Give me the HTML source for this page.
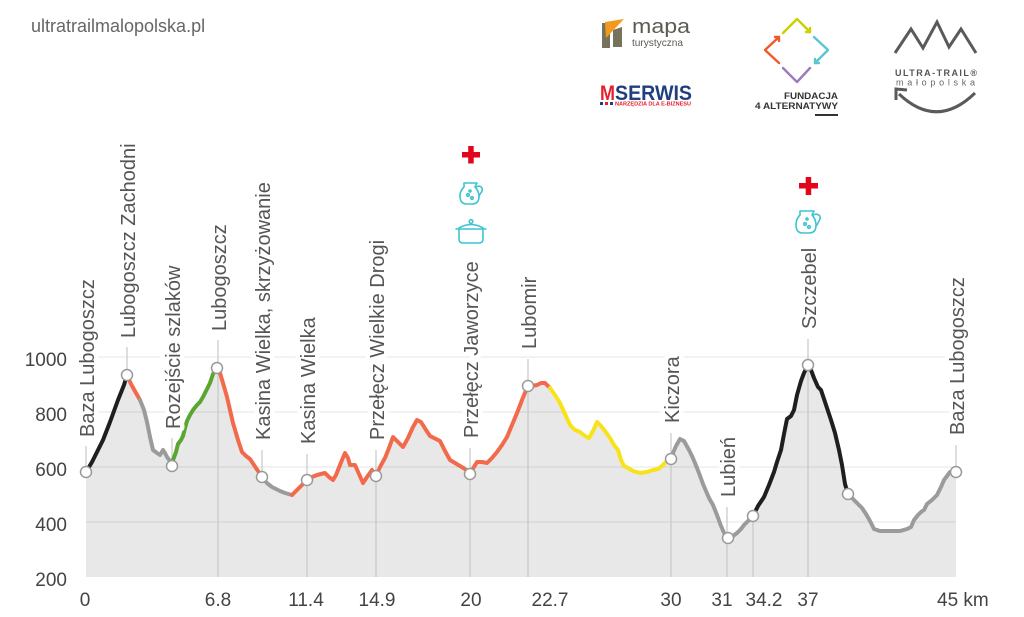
<!DOCTYPE html>
<html>
<head>
<meta charset="utf-8">
<style>
html,body{margin:0;padding:0;background:#fff;}
svg{display:block;}
text{font-family:"Liberation Sans",sans-serif;}
</style>
</head>
<body>
<svg width="1024" height="617" viewBox="0 0 1024 617" xmlns="http://www.w3.org/2000/svg">
<rect width="1024" height="617" fill="#fff"/>

<!-- header -->
<text x="31" y="32" font-size="18" fill="#666">ultratrailmalopolska.pl</text>

<!-- mapa turystyczna logo -->
<rect x="602" y="23" width="8" height="25" fill="#77725c"/>
<polygon points="613,30 622,27 622,47 613,47" fill="#77725c"/>
<polygon points="605,22 624,19 606,38" fill="#f39a1e"/>
<text x="632" y="33" font-size="20" fill="#5b5b52" textLength="58" lengthAdjust="spacingAndGlyphs">mapa</text>
<text x="632" y="46" font-size="10.5" fill="#5b5b52" textLength="51" lengthAdjust="spacingAndGlyphs">turystyczna</text>

<!-- MSERWIS logo -->
<text x="600" y="100" font-size="21" font-weight="bold" fill="#e4202e" textLength="15" lengthAdjust="spacingAndGlyphs">M</text>
<text x="615" y="100" font-size="21" font-weight="bold" fill="#1f3f7f" textLength="77" lengthAdjust="spacingAndGlyphs">SERWIS</text>
<rect x="600" y="102" width="3" height="3" fill="#1f3f7f"/>
<rect x="605" y="102" width="3" height="3" fill="#e4202e"/>
<rect x="610" y="102" width="3" height="3" fill="#1f3f7f"/>
<text x="615" y="105.5" font-size="5" font-weight="bold" fill="#e4202e" textLength="76" lengthAdjust="spacingAndGlyphs">NARZĘDZIA DLA E-BIZNESU</text>

<!-- Fundacja logo -->
<g fill="none" stroke-width="2.4" stroke-linecap="round" stroke-linejoin="round">
  <polyline points="783,33 797,19 810,32" stroke="#c9d200"/>
  <polyline points="806,32 810,32 810,28" stroke="#c9d200"/>
  <polyline points="814,37 828,50 815,63" stroke="#5bc5d0"/>
  <polyline points="815,59 815,63 819,63" stroke="#5bc5d0"/>
  <polyline points="810,68 797,82 783,68" stroke="#9b7bbf"/>
  <polyline points="779,63 765,50 779,37" stroke="#ee5a2b"/>
  <polyline points="775,37 779,37 779,41" stroke="#ee5a2b"/>
</g>
<text x="838" y="99" font-size="9" font-weight="bold" fill="#333" text-anchor="end" textLength="54" lengthAdjust="spacingAndGlyphs">FUNDACJA</text>
<text x="838" y="109" font-size="9" font-weight="bold" fill="#333" text-anchor="end" textLength="83" lengthAdjust="spacingAndGlyphs">4 ALTERNATYWY</text>
<rect x="815" y="114" width="23" height="2" fill="#333"/>

<!-- Ultra-trail logo -->
<polyline points="895,53 911,29 923,48 937,22 949,47 961,29 976,53" fill="none" stroke="#5a5a5a" stroke-width="3" stroke-linejoin="miter"/>
<text x="895" y="76" font-size="9" font-weight="bold" fill="#555" textLength="82" lengthAdjust="spacing">ULTRA-TRAIL®</text>
<text x="896" y="85.5" font-size="9" fill="#666" textLength="79" lengthAdjust="spacing">małopolska</text>
<path d="M975,93 Q937,130 899,94" fill="none" stroke="#5a5a5a" stroke-width="3"/>
<polyline points="896,100 896,89 907,90" fill="none" stroke="#5a5a5a" stroke-width="3" stroke-linejoin="miter"/>

<!-- area fill -->
<polygon fill="#e8e8e8" points="86,472 92,462 97,452 103,440 110,422 118,400 124,385 127,375 131,384 136,393 140,400 144,410 147,422 150,437 153,450 157,453 160,455 163,450 165,453 167,457 170,461 172,466 173,460 176,452 178,444 181,440 183,436 185,428 187,421 190,415 193,410 197,405 200,402 203,397 206,391 210,383 213,374 217,368 220,373 223,383 227,397 230,410 233,423 238,440 242,452 246,456 250,459 254,465 258,471 262,477 265,481 268,484 272,487 276,489 280,491 285,493 292,495 296,491 300,487 304,483 307,480 312,477 317,475 321,474 325,473 329,477 333,480 336,475 338,470 342,460 345,453 348,458 350,465 355,465 359,474 363,483 367,477 372,470 376,476 380,467 385,458 389,448 393,437 398,442 403,447 408,438 413,427 417,420 421,422 426,430 430,436 436,439 440,441 445,451 450,460 455,463 460,466 465,469 470,473 474,467 477,462 482,462 487,463 492,458 497,452 502,445 507,437 512,425 517,413 522,400 527,388 532,386 537,385 541,383 545,383 550,388 555,395 560,403 565,414 570,425 575,430 580,432 585,436 589,438 593,431 597,422 601,426 605,431 610,438 614,445 618,450 621,460 624,466 628,468 633,471 640,473 647,472 653,470 658,469 662,466 666,462 671,459 673,453 676,446 680,439 684,441 689,450 692,456 695,463 699,473 703,484 709,498 713,505 717,515 721,526 725,535 728,537 733,536 737,533 741,529 744,525 748,521 753,516 758,506 764,497 769,485 774,472 777,462 781,450 784,434 787,419 791,416 794,410 797,395 801,381 804,373 808,365 811,370 814,378 818,387 821,390 825,402 831,420 835,433 839,450 842,465 845,484 848,494 853,499 857,503 862,508 866,514 870,521 874,529 880,531 891,531 900,531 907,529 911,527 914,520 918,515 921,512 924,510 927,504 932,500 937,495 941,487 944,480 947,476 950,472 956,472 956,577 86,577"/>

<!-- horizontal grid -->
<g stroke="#000" stroke-opacity="0.08" stroke-width="1.2">
  <line x1="86" y1="357" x2="956" y2="357"/>
  <line x1="86" y1="412" x2="956" y2="412"/>
  <line x1="86" y1="467" x2="956" y2="467"/>
  <line x1="86" y1="522" x2="956" y2="522"/>
</g>

<!-- vertical lines -->
<g stroke="#c8c8c8" stroke-width="1.2">
  <line x1="86" y1="446" x2="86" y2="472"/>
  <line x1="127" y1="347" x2="127" y2="375"/>
  <line x1="172" y1="438" x2="172" y2="466"/>
  <line x1="218" y1="340" x2="218" y2="577"/>
  <line x1="262" y1="450" x2="262" y2="477"/>
  <line x1="307" y1="454" x2="307" y2="577"/>
  <line x1="376" y1="450" x2="376" y2="577"/>
  <line x1="470" y1="448" x2="470" y2="577"/>
  <line x1="528" y1="359" x2="528" y2="577"/>
  <line x1="671" y1="433" x2="671" y2="577"/>
  <line x1="727" y1="507" x2="727" y2="577"/>
  <line x1="753" y1="516" x2="753" y2="577"/>
  <line x1="808" y1="339" x2="808" y2="577"/>
  <line x1="956" y1="445" x2="956" y2="472"/>
</g>

<!-- profile lines -->
<g fill="none" stroke-width="4" stroke-linecap="round" stroke-linejoin="round">
  <polyline stroke="#1f1f1f" points="86,472 92,462 97,452 103,440 110,422 118,400 124,385 127,375"/>
  <polyline stroke="#f26a4b" points="127,375 131,384 136,393 140,400"/>
  <polyline stroke="#9b9b9b" points="140,400 144,410 147,422 150,437 153,450 157,453 160,455 163,450 165,453 167,457 170,461 172,466"/>
  <polyline stroke="#5ba531" points="172,466 173,460 176,452 178,444 181,440 183,436 185,428 187,421 190,415 193,410 197,405 200,402 203,397 206,391 210,383 213,374 217,368"/>
  <polyline stroke="#f26a4b" points="217,368 220,373 223,383 227,397 230,410 233,423 238,440 242,452 246,456 250,459 254,465 258,471 262,477"/>
  <polyline stroke="#9b9b9b" points="262,477 265,481 268,484 272,487 276,489 280,491 285,493 292,495"/>
  <polyline stroke="#f26a4b" points="292,495 296,491 300,487 304,483 307,480 312,477 317,475 321,474 325,473 329,477 333,480 336,475 338,470 342,460 345,453 348,458 350,465 355,465 359,474 363,483 367,477 372,470 376,476 380,467 385,458 389,448 393,437 398,442 403,447 408,438 413,427 417,420 421,422 426,430 430,436 436,439 440,441 445,451 450,460 455,463 460,466 465,469 470,473 474,467 477,462 482,462 487,463 492,458 497,452 502,445 507,437 512,425 517,413 522,400 527,388 532,386 537,385 541,383 545,383 550,388"/>
  <polyline stroke="#f7e21b" points="550,388 555,395 560,403 565,414 570,425 575,430 580,432 585,436 589,438 593,431 597,422 601,426 605,431 610,438 614,445 618,450 621,460 624,466 628,468 633,471 640,473 647,472 653,470 658,469 662,466 666,462 671,459"/>
  <polyline stroke="#9b9b9b" points="671,459 673,453 676,446 680,439 684,441 689,450 692,456 695,463 699,473 703,484 709,498 713,505 717,515 721,526 725,535 728,537 733,536 737,533 741,529 744,525 748,521 753,516"/>
  <polyline stroke="#1f1f1f" points="753,516 758,506 764,497 769,485 774,472 777,462 781,450 784,434 787,419 791,416 794,410 797,395 801,381 804,373 808,365 811,370 814,378 818,387 821,390 825,402 831,420 835,433 839,450 842,465 845,484 848,494"/>
  <polyline stroke="#9b9b9b" points="848,494 853,499 857,503 862,508 866,514 870,521 874,529 880,531 891,531 900,531 907,529 911,527 914,520 918,515 921,512 924,510 927,504 932,500 937,495 941,487 944,480 947,476 950,472 956,472"/>
</g>

<!-- markers -->
<g fill="#fff" stroke="#999" stroke-width="1.5">
  <circle cx="86" cy="472" r="5.5"/>
  <circle cx="127" cy="375" r="5.5"/>
  <circle cx="172" cy="466" r="5.5"/>
  <circle cx="217" cy="368" r="5.5"/>
  <circle cx="262" cy="477" r="5.5"/>
  <circle cx="307" cy="480" r="5.5"/>
  <circle cx="376" cy="476" r="5.5"/>
  <circle cx="470" cy="474" r="5.5"/>
  <circle cx="528" cy="386" r="5.5"/>
  <circle cx="671" cy="459" r="5.5"/>
  <circle cx="728" cy="538" r="5.5"/>
  <circle cx="753" cy="516" r="5.5"/>
  <circle cx="808" cy="365" r="5.5"/>
  <circle cx="848" cy="494" r="5.5"/>
  <circle cx="956" cy="472" r="5.5"/>
</g>

<!-- waypoint labels -->
<g font-size="20" fill="#555" stroke="#fff" stroke-width="9" stroke-linejoin="round" paint-order="stroke">
  <text transform="translate(94,437) rotate(-90)">Baza Lubogoszcz</text>
  <text transform="translate(135,338) rotate(-90)">Lubogoszcz Zachodni</text>
  <text transform="translate(180,429) rotate(-90)">Rozejście szlaków</text>
  <text transform="translate(226,331) rotate(-90)">Lubogoszcz</text>
  <text transform="translate(270,440) rotate(-90)">Kasina Wielka, skrzyżowanie</text>
  <text transform="translate(315,444) rotate(-90)">Kasina Wielka</text>
  <text transform="translate(384,440) rotate(-90)">Przełęcz Wielkie Drogi</text>
  <text transform="translate(478,438) rotate(-90)">Przełęcz Jaworzyce</text>
  <text transform="translate(536,349) rotate(-90)">Lubomir</text>
  <text transform="translate(679,423) rotate(-90)">Kiczora</text>
  <text transform="translate(735,497) rotate(-90)">Lubień</text>
  <text transform="translate(816,329) rotate(-90)">Szczebel</text>
  <text transform="translate(964,435) rotate(-90)">Baza Lubogoszcz</text>
</g>

<!-- icons -->
<g fill="#e3061b">
  <rect x="462" y="152" width="18" height="5.5"/>
  <rect x="468.2" y="146" width="5.5" height="17.5"/>
  <rect x="799" y="183" width="19" height="5.5"/>
  <rect x="805.7" y="177" width="5.5" height="18"/>
</g>
<g fill="none" stroke="#3cc4d0" stroke-width="1.6" stroke-linecap="round" stroke-linejoin="round">
  <!-- jug 1 -->
  <path d="M464,183 h13 l-2,4 c4,4 5,10 3,14 c-1,2 -3,3 -6,3 h-5 c-3,0 -5,-1 -6,-3 c-2,-5 -1,-10 3,-14 z"/>
  <path d="M476,187 c4,-2 7,0 6,4 l-3,5"/>
  <circle cx="468" cy="195" r="1.3"/>
  <circle cx="472" cy="198" r="1.3"/>
  <circle cx="470" cy="191" r="1"/>
  <!-- pot -->
  <circle cx="471" cy="221.5" r="1.8"/>
  <path d="M459,228 Q471,221 483,228"/>
  <line x1="456" y1="229" x2="486" y2="229"/>
  <path d="M459,230 v9 q0,4 4,4 h16 q4,0 4,-4 v-9"/>
  <!-- jug 2 -->
  <path d="M800,211 h14 l-2,4 c4,4 5,11 3,15 c-1,2 -3,3 -6,3 h-6 c-3,0 -5,-1 -6,-3 c-2,-5 -1,-11 3,-15 z"/>
  <path d="M813,215 c4,-2 8,0 7,4 l-3,6"/>
  <circle cx="805" cy="224" r="1.3"/>
  <circle cx="809" cy="227" r="1.3"/>
  <circle cx="807" cy="219" r="1"/>
</g>

<!-- y axis labels -->
<g font-size="19" fill="#444" text-anchor="end">
  <text x="67" y="366">1000</text>
  <text x="67" y="421">800</text>
  <text x="67" y="476">600</text>
  <text x="67" y="531">400</text>
  <text x="67" y="586">200</text>
</g>

<!-- x axis labels -->
<g font-size="19" fill="#444" text-anchor="middle">
  <text x="85" y="606">0</text>
  <text x="218" y="606">6.8</text>
  <text x="306" y="606">11.4</text>
  <text x="377" y="606">14.9</text>
  <text x="471" y="606">20</text>
  <text x="550" y="606">22.7</text>
  <text x="671" y="606">30</text>
  <text x="722" y="606">31</text>
  <text x="764" y="606">34.2</text>
  <text x="808" y="606">37</text>
  <text x="937" y="606" text-anchor="start">45 km</text>
</g>
</svg>
</body>
</html>
